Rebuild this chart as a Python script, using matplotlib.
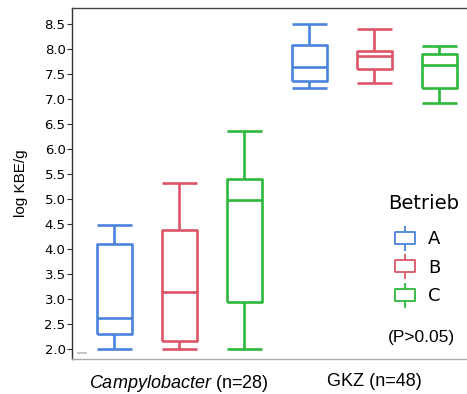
import matplotlib.pyplot as plt
from matplotlib.path import Path

plt.rcParams['mathtext.fontset'] = 'custom'
plt.rcParams['mathtext.it'] = 'Liberation Sans:italic'
plt.rcParams['mathtext.rm'] = 'Liberation Sans'

# Five-number summaries (log KBE/g) per organism and Betrieb
betriebe = ['A', 'B', 'C']
colors = ['#4a82dc', '#dc5468', '#2cb83c']
group_labels = [r'$\it{Campylobacter}$ (n=28)', 'GKZ (n=48)']

whislo = [2.00, 2.00, 2.00, 7.22, 7.32, 6.92]
q1 = [2.30, 2.16, 2.94, 7.36, 7.60, 7.22]
med = [2.62, 3.14, 4.98, 7.64, 7.86, 7.68]
q3 = [4.10, 4.38, 5.40, 8.08, 7.96, 7.90]
whishi = [4.48, 5.32, 6.36, 8.50, 8.40, 8.06]

yticks = [2.0, 2.5, 3.0, 3.5, 4.0, 4.5, 5.0, 5.5, 6.0, 6.5, 7.0, 7.5, 8.0, 8.5]

fig = plt.figure(figsize=(4.67, 3.94), dpi=100)
ax = fig.add_axes([72 / 467, 35 / 394, 395 / 467, 351 / 394])

for i in range(6):
    c = colors[i % 3]
    s = dict(whislo=whislo[i], q1=q1[i], med=med[i], q3=q3[i], whishi=whishi[i], fliers=[])
    lp = dict(color=c, linewidth=1.9, solid_capstyle='butt')
    ax.bxp([s], positions=[i], widths=0.54, capwidths=0.54,
           boxprops=lp, medianprops=lp, whiskerprops=lp, capprops=lp,
           showfliers=False, manage_ticks=False)

ax.set_xlim(-0.65, 5.43)
ax.set_ylim(1.8, 8.82)
ax.set_yticks(yticks)
ax.set_yticklabels([f'{v:.1f}' for v in yticks], fontsize=9.5, family='DejaVu Sans')
ax.tick_params(axis='y', length=3.6, width=0.8, pad=1, color='#333333')
ax.set_xticks([1, 4])
ax.set_xticklabels(group_labels, fontsize=13, family='Liberation Sans')
ax.tick_params(axis='x', length=0, pad=10)
ax.set_ylabel('log KBE/g', fontsize=11, family='Liberation Sans', labelpad=12)

ax.spines['right'].set_visible(False)
ax.spines['top'].set_color('#444444')
ax.spines['left'].set_color('#333333')
ax.spines['bottom'].set_color('#aaaaaa')
for s in ['top', 'left', 'bottom']:
    ax.spines[s].set_linewidth(1.0)
ax.plot([0.015, 0.035], [0.017, 0.017], transform=ax.transAxes, color='#bbbbbb',
        linewidth=1.2, clip_on=False)

# legend drawn by hand: small box-plot glyphs next to the Betrieb letters
icon = Path([(-1, -0.57), (1, -0.57), (1, 0.57), (-1, 0.57), (-1, -0.57),
             (0, 0.57), (0, 1.25), (0, -0.57), (0, -1.25)],
            [Path.MOVETO, Path.LINETO, Path.LINETO, Path.LINETO, Path.CLOSEPOLY,
             Path.MOVETO, Path.LINETO, Path.MOVETO, Path.LINETO])
ax.text(0.890, 0.442, 'Betrieb', transform=ax.transAxes, ha='center', va='center',
        fontsize=14, family='DejaVu Sans')
for k, (name, c) in enumerate(zip(betriebe, colors)):
    yk = 0.346 - k * 0.0812
    ax.plot([0.842], [yk], transform=ax.transAxes, linestyle='none', marker=icon,
            markersize=18, markerfacecolor='none', markeredgecolor=c,
            markeredgewidth=1.3, clip_on=False)
    ax.text(0.901, yk - 0.005, name, transform=ax.transAxes, ha='left', va='center',
            fontsize=13, family='DejaVu Sans')
ax.text(0.884, 0.06, '(P>0.05)', transform=ax.transAxes, ha='center', va='center',
        fontsize=12.5, family='Liberation Sans')

fig.savefig('out.png', dpi=100)
